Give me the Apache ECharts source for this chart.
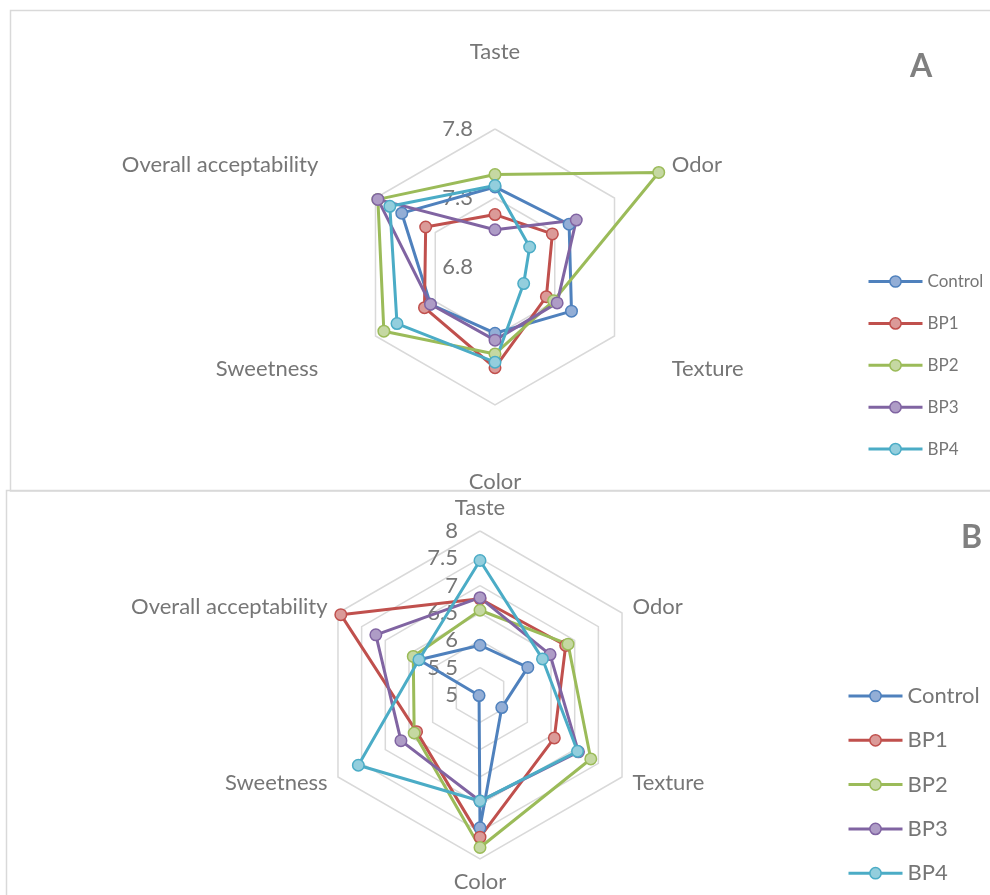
<!DOCTYPE html>
<html>
<head>
<meta charset="utf-8">
<script src="https://cdn.jsdelivr.net/npm/echarts@6/dist/echarts.min.js"></script>
<style>html,body{margin:0;padding:0;background:#fff;}#c{width:990px;height:895px;}</style>
</head>
<body>
<div id="c"></div>
<script>
// ---- data ----
const categories = ['Taste', 'Odor', 'Texture', 'Color', 'Sweetness', 'Overall acceptability'];
const groups = ['Control', 'BP1', 'BP2', 'BP3', 'BP4'];

// Panel A (order: Taste, Odor, Texture, Color, Sweetness, Overall acceptability)
const controlA = [7.38, 7.42, 7.44, 7.28, 7.34, 7.58];
const bp1A     = [7.18, 7.28, 7.23, 7.53, 7.39, 7.38];
const bp2A     = [7.47, 8.17, 7.29, 7.43, 7.73, 7.78];
const bp3A     = [7.07, 7.48, 7.32, 7.33, 7.34, 7.78];
const bp4A     = [7.39, 7.09, 7.04, 7.49, 7.62, 7.68];

// Panel B
const controlB = [5.91, 6.01, 5.46, 7.43, 5.02, 6.29];
const bp1B     = [6.76, 6.81, 6.57, 7.60, 6.34, 7.94];
const bp2B     = [6.55, 6.86, 7.34, 7.79, 6.39, 6.41];
const bp3B     = [6.78, 6.48, 7.08, 6.94, 6.67, 7.20];
const bp4B     = [7.46, 6.32, 7.06, 6.94, 7.57, 6.29];

// axis scales / tick labels
const ticksA = [6.8, 7.3, 7.8];
const ticksB = [5, 5.5, 6, 6.5, 7, 7.5, 8];
const panelLabels = ['A', 'B'];

// ---- styling ----
const lineColors = ['#4F81BD', '#C0504D', '#9BBB59', '#8064A2', '#4BACC6'];
const fillColors = ['#93AED6', '#DB9A98', '#C5D8A2', '#AE9CC6', '#93CEDD'];
const textColor = '#767676';
const FONT = 'Lato, "Open Sans", sans-serif';

const valuesA = [controlA, bp1A, bp2A, bp3A, bp4A];
const valuesB = [controlB, bp1B, bp2B, bp3B, bp4B];

// ECharts places indicators counter-clockwise; reorder so they run clockwise
const order = [0, 5, 4, 3, 2, 1];
const reorder = arr => order.map(i => arr[i]);

function indicators(ticks) {
  const min = ticks[0], max = ticks[ticks.length - 1];
  return reorder(categories).map((name, i) => {
    const o = { name: name, min: min, max: max };
    o.axisLabel = { show: i === 0 };
    return o;
  });
}

function radarCfg(ticks, center, radius, nameGap) {
  return {
    center: center,
    radius: radius,
    startAngle: 90,
    shape: 'polygon',
    splitNumber: ticks.length - 1,
    indicator: indicators(ticks),
    nameGap: nameGap,
    axisName: { color: textColor, fontSize: 22, fontFamily: FONT },
    axisLine: { show: false },
    axisTick: { show: false },
    splitArea: { show: false },
    splitLine: { lineStyle: { color: '#D9D9D9', width: 1.5 } },
    axisLabel: { show: false, color: textColor, fontSize: 22, fontFamily: FONT, margin: 22,
      formatter: v => String(+v.toFixed(2)) }
  };
}

const series = [];
// dummy line series to provide line+marker legend icons
groups.forEach((g, i) => {
  series.push({
    type: 'line', name: g, xAxisIndex: 0, yAxisIndex: 0, data: [],
    symbol: 'circle', symbolSize: 11,
    lineStyle: { color: lineColors[i], width: 3 },
    itemStyle: { color: fillColors[i], borderColor: lineColors[i], borderWidth: 1.5 }
  });
});
[valuesA, valuesB].forEach((vals, r) => {
  groups.forEach((g, i) => {
    series.push({
      type: 'radar', name: g, radarIndex: r,
      symbol: 'circle', symbolSize: 11.5,
      lineStyle: { color: lineColors[i], width: 3 },
      itemStyle: { color: fillColors[i], borderColor: lineColors[i], borderWidth: 1.5 },
      data: [{ name: g, value: reorder(vals[i]) }]
    });
  });
});

function legendCfg(left, top, gap, fontSize) {
  return {
    orient: 'vertical', left: left, top: top, itemWidth: 54, itemHeight: 14, itemGap: gap,
    data: groups, selectedMode: false, padding: 2,
    lineStyle: { width: 3 },
    itemStyle: { borderWidth: 1.5 },
    textStyle: { color: textColor, fontSize: fontSize, fontFamily: FONT }
  };
}

const option = {
  animation: false,
  backgroundColor: '#fff',
  title: [
    { text: panelLabels[0], left: 905, top: 46, textStyle: { color: '#808080', fontSize: 32, fontWeight: 'bold', fontFamily: FONT } },
    { text: panelLabels[1], left: 956, top: 517, textStyle: { color: '#808080', fontSize: 32, fontWeight: 'bold', fontFamily: FONT } }
  ],
  grid: { left: -200, top: -200, width: 10, height: 10, show: false },
  xAxis: { type: 'value', show: false },
  yAxis: { type: 'value', show: false },
  legend: [legendCfg(865, 271, 24.9, 17), legendCfg(845, 683, 22.3, 22)],
  radar: [
    radarCfg(ticksA, [495, 267], 138, 66),
    radarCfg(ticksB, [480, 695], 164, 12)
  ],
  graphic: [
    { type: 'rect', z: 100, silent: true, shape: { x: 10.5, y: 10.5, width: 1000, height: 480.5 },
      style: { fill: 'none', stroke: '#D9D9D9', lineWidth: 1.5 } },
    { type: 'rect', z: 100, silent: true, shape: { x: 6.5, y: 490.5, width: 1000, height: 500 },
      style: { fill: 'none', stroke: '#D9D9D9', lineWidth: 1.5 } }
  ],
  series: series
};

const chart = echarts.init(document.getElementById('c'), null, { renderer: 'canvas' });
chart.setOption(option);
</script>
</body>
</html>
